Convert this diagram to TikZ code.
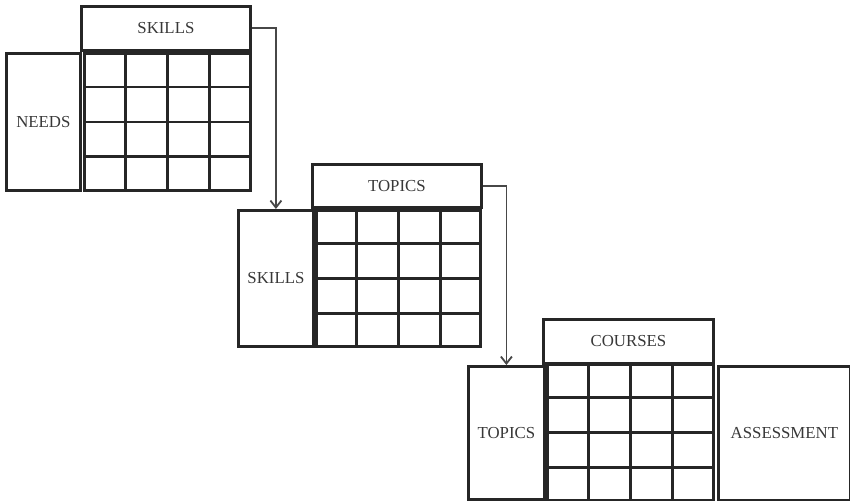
\documentclass[tikz,border=0pt]{standalone}
\usepackage{fontspec}
\setmainfont{Liberation Serif}
\usetikzlibrary{arrows.meta,calc}
\tikzset{
  box/.style={draw=black!85, line width=2.8pt, rectangle, inner sep=0pt, anchor=north west,
    font=\fontsize{16.8}{20}\selectfont, text=black!78},
  gridline/.style={draw=black!85, line width=2.8pt},
  flow/.style={draw=black!72, line width=1.8pt, -{Straight Barb[length=7pt,width=11pt,line width=1.8pt]}}
}
\begin{document}
\begin{tikzpicture}[x=1pt,y=-1pt]
\useasboundingbox (0,0) rectangle (850,500);
% group 1
\node[box, minimum width=169pt, minimum height=44pt] (h1) at (80,5) {SKILLS};
\node[box, minimum width=74pt, minimum height=137pt] (l1) at (5,52) {NEEDS};
\node[box, minimum width=166pt, minimum height=137pt] (g1) at (83,52) {};
% group 2
\node[box, minimum width=169pt, minimum height=43pt] (h2) at (311,163) {TOPICS};
\node[box, minimum width=75pt, minimum height=136pt] (l2) at (237,209) {SKILLS};
\node[box, minimum width=164pt, minimum height=136pt] (g2) at (315,209) {};
% group 3
\node[box, minimum width=170pt, minimum height=44pt] (h3) at (542,318) {COURSES};
\node[box, minimum width=76pt, minimum height=133pt] (l3) at (467,365) {TOPICS};
\node[box, minimum width=166pt, minimum height=136pt] (g3) at (546,363) {};
\node[box, minimum width=132pt, minimum height=134pt] (as) at (717,365) {ASSESSMENT};
% grid lines
\foreach \g in {g1,g2,g3}{
  \foreach \f in {0.25,0.5,0.75}{
    \draw[gridline] ($(\g.north west)!\f!(\g.north east)$) -- ($(\g.south west)!\f!(\g.south east)$);
    \draw[gridline] ($(\g.north west)!\f!(\g.south west)$) -- ($(\g.north east)!\f!(\g.south east)$);
  }
}
% connectors
\draw[flow] (h1.east) -| (l2.north);
\draw[flow] (h2.east) -| (l3.north);
\end{tikzpicture}
\end{document}
